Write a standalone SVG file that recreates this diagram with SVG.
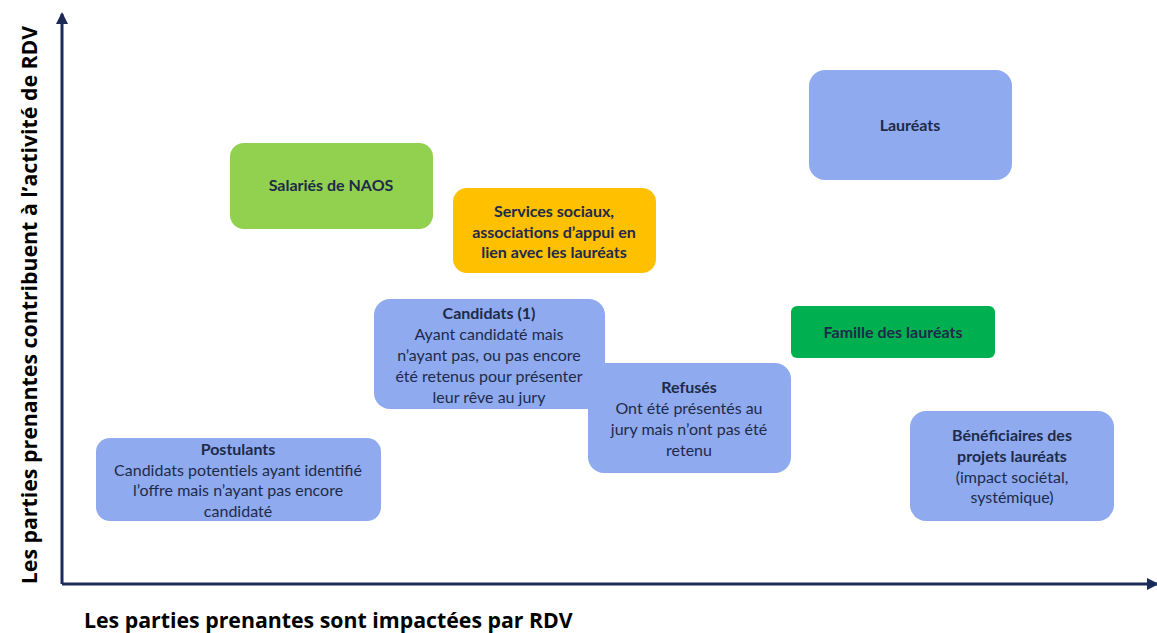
<svg xmlns="http://www.w3.org/2000/svg" width="1157" height="633" viewBox="0 0 1157 633">
<style>
.t{font-family:Lato,"Open Sans","Liberation Sans",sans-serif;font-size:16px;fill:#1e2a4a;text-anchor:middle}
.b{font-weight:bold}
.blue{fill:#8faaee}
.ax{font-family:"Open Sans","Liberation Sans",sans-serif;font-size:21.3px;font-weight:bold;fill:#000}
</style>
<defs>
<marker id="ah" markerWidth="12" markerHeight="12" refX="10" refY="6" orient="auto" markerUnits="userSpaceOnUse">
<path d="M0,0 L12,6 L0,12 Z" fill="#1c2a5a"/>
</marker>
</defs>
<rect width="1157" height="633" fill="#fff"/>
<g id="axes" stroke="#1c2a5a" stroke-width="3" fill="none">
<path d="M62,584 L62,14" marker-end="url(#ah)"/>
<path d="M62,584 L1157,584" marker-end="url(#ah)"/>
</g>
<text class="ax" x="84" y="628">Les parties prenantes sont impactées par RDV</text>
<text class="ax" transform="translate(37,305) rotate(-90)" text-anchor="middle">Les parties prenantes contribuent à l’activité de RDV</text>
<g id="laureats"><rect x="809" y="70" width="203" height="110" rx="16" class="blue"/><text class="t b" x="910" y="131">Lauréats</text></g>
<g id="salaries"><rect x="230" y="143" width="203" height="86" rx="14" fill="#92d050"/><text class="t b" x="331" y="191">Salariés de NAOS</text></g>
<g id="services"><rect x="453" y="188" width="203" height="85" rx="14" fill="#ffc000"/>
<text class="t b" x="554" y="217">Services sociaux,</text><text class="t b" x="554" y="238">associations d’appui en</text><text class="t b" x="554" y="258">lien avec les lauréats</text></g>
<g id="candidats"><rect x="374" y="299" width="231" height="110" rx="16" class="blue"/>
<text class="t b" x="489" y="319">Candidats (1)</text><text class="t" x="489" y="340">Ayant candidaté mais</text><text class="t" x="489" y="361">n’ayant pas, ou pas encore</text><text class="t" x="489" y="382">été retenus pour présenter</text><text class="t" x="489" y="403">leur rêve au jury</text></g>
<g id="famille"><rect x="791" y="306" width="204" height="52" rx="6" fill="#00b050"/><text class="t b" x="893" y="338">Famille des lauréats</text></g>
<g id="refuses"><rect x="588" y="363" width="203" height="110" rx="16" class="blue"/>
<text class="t b" x="689" y="393">Refusés</text><text class="t" x="689" y="414">Ont été présentés au</text><text class="t" x="689" y="435">jury mais n’ont pas été</text><text class="t" x="689" y="456">retenu</text></g>
<g id="postulants"><rect x="96" y="438" width="285" height="83" rx="14" class="blue"/>
<text class="t b" x="238" y="455">Postulants</text><text class="t" x="238" y="476">Candidats potentiels ayant identifié</text><text class="t" x="238" y="496">l’offre mais n’ayant pas encore</text><text class="t" x="238" y="517">candidaté</text></g>
<g id="beneficiaires"><rect x="910" y="411" width="204" height="110" rx="16" class="blue"/>
<text class="t b" x="1012" y="441">Bénéficiaires des</text><text class="t b" x="1012" y="462">projets lauréats</text><text class="t" x="1012" y="483">(impact sociétal,</text><text class="t" x="1012" y="503">systémique)</text></g>
</svg>
